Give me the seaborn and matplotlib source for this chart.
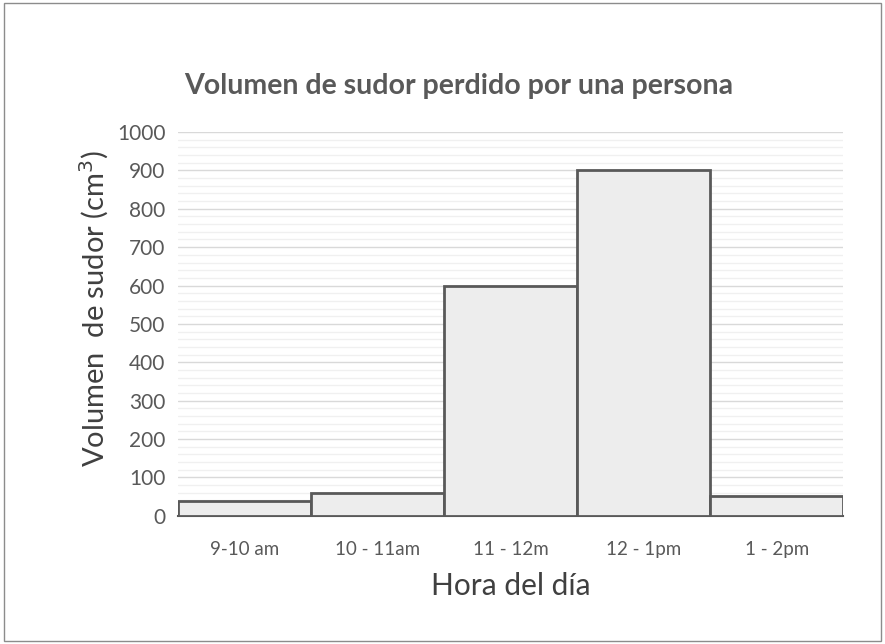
import matplotlib
matplotlib.use("Agg")
import matplotlib.pyplot as plt
import seaborn as sns
import pandas as pd
from matplotlib.ticker import MultipleLocator
from matplotlib.patches import Rectangle

# datos
horas = ["9-10 am", "10 - 11am", "11 - 12m", "12 - 1pm", "1 - 2pm"]
volumen = [38, 60, 600, 900, 52]

sns.set_theme(style="white")
plt.rcParams['font.family'] = ['Lato', 'DejaVu Sans']

df = pd.DataFrame({"hora": horas, "volumen": volumen})

fig = plt.figure(figsize=(8.85, 6.44), dpi=100)
ax = fig.add_axes([0.201, 0.199, 0.752, 0.596])

sns.barplot(data=df, x="hora", y="volumen", order=horas, color="#ededed",
            saturation=1, width=1.0, edgecolor="#595959", linewidth=2,
            ax=ax, zorder=3)

ax.set_ylim(0, 1000)
ax.set_xlim(-0.5, len(horas) - 0.5)
ax.yaxis.set_major_locator(MultipleLocator(100))
ax.yaxis.set_minor_locator(MultipleLocator(20))
ax.grid(axis="y", which="major", color="#d9d9d9", linewidth=1, zorder=0)
ax.grid(axis="y", which="minor", color="#f0f0f0", linewidth=1, zorder=0)
ax.set_axisbelow(True)

for s in ["top", "right", "left"]:
    ax.spines[s].set_visible(False)
ax.spines["bottom"].set_color("#595959")
ax.spines["bottom"].set_linewidth(1.5)

ax.tick_params(axis="both", which="both", length=0, colors="#595959")
ax.tick_params(axis="x", labelsize=13.5, pad=18)
ax.tick_params(axis="y", labelsize=15, pad=9)

ax.set_xlabel("Hora del día", fontsize=21.5, color="#404040", labelpad=10)
ax.set_ylabel("Volumen  de sudor (cm$^3$)", fontsize=21, color="#404040")
ax.yaxis.set_label_coords(-0.1, 0.54)
fig.text(0.518, 0.866, "Volumen de sudor perdido por una persona", fontsize=20.5,
         fontweight="bold", color="#595959", ha="center", va="center")

fig.patches.append(Rectangle((0.004, 0.005), 0.992, 0.99, transform=fig.transFigure,
                             fill=False, edgecolor="#8c8c8c", linewidth=1))

plt.savefig("out.png", dpi=100)
